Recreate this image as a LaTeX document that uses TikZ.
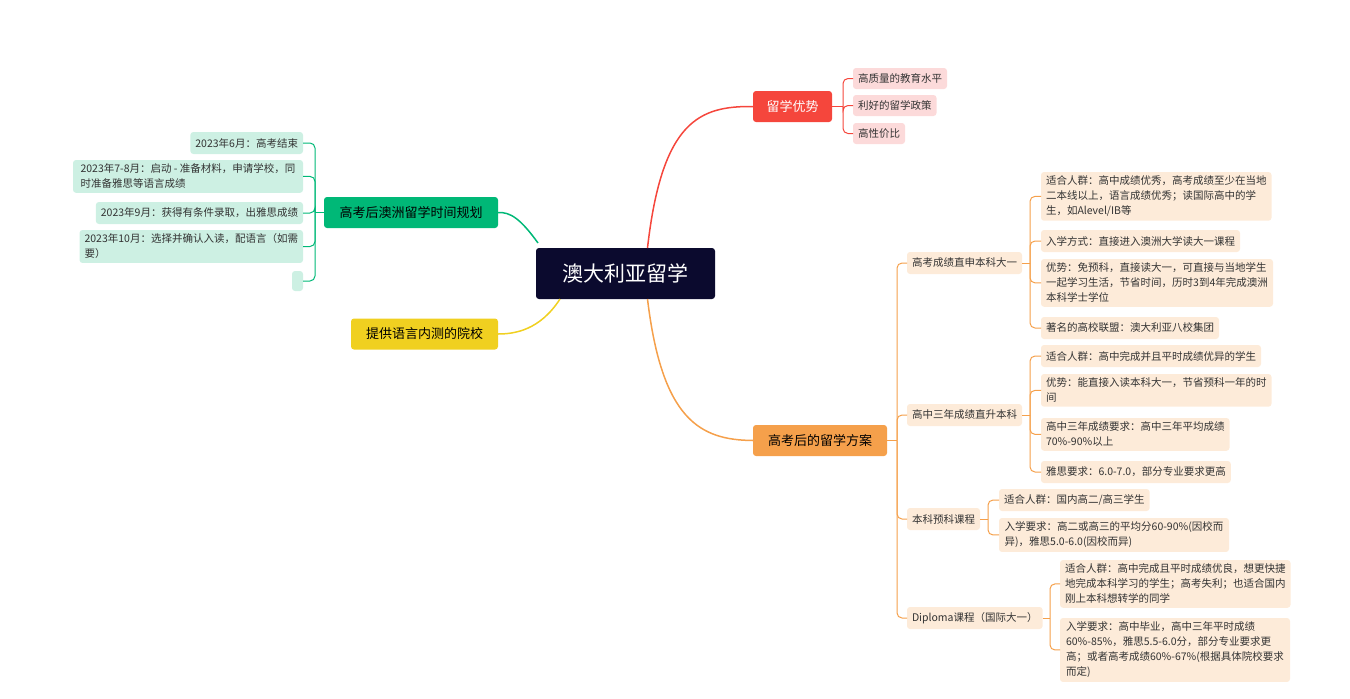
\documentclass[tikz,border=0pt]{standalone}
\usepackage{fontspec}
\setmainfont{Noto Sans CJK SC}
\usetikzlibrary{positioning}
\definecolor{rootc}{HTML}{0B0A2E}
\definecolor{redc}{HTML}{F5463C}
\definecolor{redl}{HTML}{FCDADA}
\definecolor{orac}{HTML}{F5A04B}
\definecolor{oral}{HTML}{FDEBD9}
\definecolor{grnc}{HTML}{00B877}
\definecolor{grnl}{HTML}{CDF0E3}
\definecolor{yelc}{HTML}{F0D020}
\tikzstyle{box}=[rectangle,rounded corners=3pt,inner sep=0pt,outer sep=0pt,align=left]
\tikzstyle{topic}=[box,minimum height=31pt,font=\fontsize{13}{16}\selectfont,text=black]
\tikzstyle{leaf}=[box,inner xsep=5pt,inner ysep=4pt,font=\fontsize{10.5}{15}\selectfont,text=black!80]
\tikzstyle{sub}=[leaf,fill=oral,minimum height=22pt]
\tikzstyle{rleaf}=[leaf,fill=redl,minimum height=21pt]
\tikzstyle{oleaf}=[leaf,fill=oral,minimum height=22pt,anchor=north west]
\tikzstyle{gleaf}=[leaf,fill=grnl,minimum height=22pt,anchor=north east]
\begin{document}
\begin{tikzpicture}[x=1pt,y=-1pt]
\useasboundingbox (0,0) rectangle (1350,699);

\node (root) [box,fill=rootc,text=white,minimum width=179pt,minimum height=51pt,align=center,font=\fontsize{21}{25}\selectfont] at (625.5,273.5) {澳大利亚留学};

% level one
\node (adv) [topic,fill=redc,text=white,minimum width=79pt,align=center] at (792.5,106.5) {留学优势};
\node (plan) [topic,fill=orac,minimum width=134pt,align=center] at (820,440.5) {高考后的留学方案};
\node (time) [topic,fill=grnc,minimum width=174pt,align=center] at (411,212.5) {高考后澳洲留学时间规划};
\node (test) [topic,fill=yelc,minimum width=147pt,align=center] at (424.5,334) {提供语言内测的院校};

\draw [redc,line width=1.5pt] (root.north)+(22,0) .. controls (662,120) and (700,106) .. (adv.west);
\draw [orac,line width=1.5pt] (root.south)+(22,0) .. controls (662,420) and (700,440) .. (plan.west);
\draw [grnc,line width=1.5pt] (538,243) .. controls (520,218) and (510,212) .. (time.east);
\draw [yelc,line width=1.5pt] (560,299) .. controls (540,330) and (515,334) .. (test.east);

% advantages
\node (a1) [rleaf,anchor=north west] at (853,68) {高质量的教育水平};
\node (a2) [rleaf,anchor=north west] at (853,95) {利好的留学政策};
\node (a3) [rleaf,anchor=north west] at (853,123) {高性价比};
\draw [redc,line width=1pt] (adv.east) -- (843,106.5);
\foreach \n in {a1,a2,a3}
  \draw [redc,line width=1pt,rounded corners=5pt] (843,106.5) |- (\n.west);

% plans
\node (p1) [sub,anchor=west] at (907,263) {高考成绩直申本科大一};
\node (p2) [sub,anchor=west] at (907,415) {高中三年成绩直升本科};
\node (p3) [sub,anchor=west] at (907,519) {本科预科课程};
\node (p4) [sub,anchor=west] at (907,618) {Diploma课程（国际大一）};
\draw [orac,line width=1pt] (plan.east) -- (897,440.5);
\foreach \n in {p1,p2,p3,p4}
  \draw [orac,line width=1pt,rounded corners=5pt] (897,440.5) |- (\n.west);

\node (p1a) [oleaf,minimum width=228pt] at (1041,172) {适合人群：高中成绩优秀，高考成绩至少在当地\\二本线以上，语言成绩优秀；读国际高中的学\\生，如Alevel/IB等};
\node (p1b) [oleaf] at (1041,230) {入学方式：直接进入澳洲大学读大一课程};
\node (p1c) [oleaf,minimum width=232pt] at (1041,259) {优势：免预科，直接读大一，可直接与当地学生\\一起学习生活，节省时间，历时3到4年完成澳洲\\本科学士学位};
\node (p1d) [oleaf] at (1041,317) {著名的高校联盟：澳大利亚八校集团};
\draw [orac,line width=1pt] (p1.east) -- (1030,263);
\foreach \n in {p1a,p1b,p1c,p1d}
  \draw [orac,line width=1pt,rounded corners=5pt] (1030,263) |- (\n.west);

\node (p2a) [oleaf] at (1041,345) {适合人群：高中完成并且平时成绩优异的学生};
\node (p2b) [oleaf,minimum width=229pt] at (1041,374) {优势：能直接入读本科大一，节省预科一年的时\\间};
\node (p2c) [oleaf,minimum width=187pt] at (1041,418) {高中三年成绩要求：高中三年平均成绩\\70\%-90\%以上};
\node (p2d) [oleaf] at (1041,461) {雅思要求：6.0-7.0，部分专业要求更高};
\draw [orac,line width=1pt] (p2.east) -- (1030,415);
\foreach \n in {p2a,p2b,p2c,p2d}
  \draw [orac,line width=1pt,rounded corners=5pt] (1030,415) |- (\n.west);

\node (p3a) [oleaf] at (999,489) {适合人群：国内高二/高三学生};
\node (p3b) [oleaf,minimum width=230pt] at (999,518) {入学要求：高二或高三的平均分60-90\%(因校而\\异)，雅思5.0-6.0(因校而异)};
\draw [orac,line width=1pt] (p3.east) -- (988,519);
\foreach \n in {p3a,p3b}
  \draw [orac,line width=1pt,rounded corners=5pt] (988,519) |- (\n.west);

\node (p4a) [oleaf,minimum width=230pt] at (1060,560) {适合人群：高中完成且平时成绩优良，想更快捷\\地完成本科学习的学生；高考失利；也适合国内\\刚上本科想转学的同学};
\node (p4b) [oleaf,minimum width=230pt] at (1060,618) {入学要求：高中毕业，高中三年平时成绩\\60\%-85\%，雅思5.5-6.0分，部分专业要求更\\高；或者高考成绩60\%-67\%(根据具体院校要求\\而定)};
\draw [orac,line width=1pt] (p4.east) -- (1050,618);
\foreach \n in {p4a,p4b}
  \draw [orac,line width=1pt,rounded corners=5pt] (1050,618) |- (\n.west);

% timeline
\node (t1) [gleaf] at (303,132) {2023年6月：高考结束};
\node (t2) [gleaf,minimum width=230pt] at (303,160) {2023年7-8月：启动 - 准备材料，申请学校，同\\时准备雅思等语言成绩};
\node (t3) [gleaf] at (303,202) {2023年9月：获得有条件录取，出雅思成绩};
\node (t4) [gleaf,minimum width=222pt] at (303,230) {2023年10月：选择并确认入读，配语言（如需\\要）};
\node (t5) [gleaf,minimum width=11pt,minimum height=20pt] at (303,271) {};
\draw [grnc,line width=1pt] (time.west) -- (315,212.5);
\foreach \n in {t1,t2,t3,t4,t5}
  \draw [grnc,line width=1pt,rounded corners=5pt] (315,212.5) |- (\n.east);
\end{tikzpicture}
\end{document}
